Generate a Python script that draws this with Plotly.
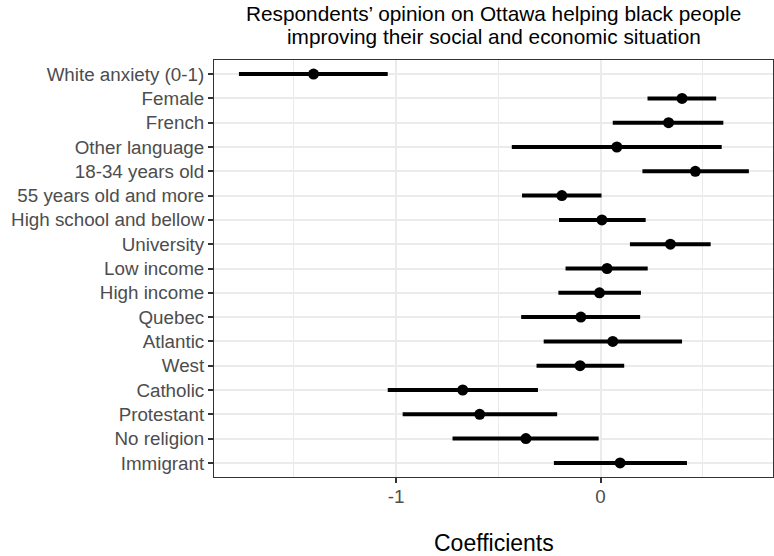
import plotly.graph_objects as go

# ---- data ----
variables = [
    "White anxiety (0-1)", "Female", "French", "Other language",
    "18-34 years old", "55 years old and more", "High school and bellow",
    "University", "Low income", "High income", "Quebec", "Atlantic",
    "West", "Catholic", "Protestant", "No religion", "Immigrant",
]
estimate = [-1.404, 0.399, 0.333, 0.080, 0.464, -0.189, 0.007, 0.342, 0.032,
            -0.005, -0.096, 0.060, -0.100, -0.674, -0.591, -0.365, 0.096]
conf_low = [-1.769, 0.230, 0.060, -0.434, 0.205, -0.384, -0.203, 0.144, -0.171,
            -0.206, -0.388, -0.278, -0.313, -1.041, -0.968, -0.724, -0.228]
conf_high = [-1.041, 0.566, 0.601, 0.593, 0.726, 0.005, 0.221, 0.539, 0.231,
             0.198, 0.194, 0.399, 0.116, -0.306, -0.212, -0.009, 0.423]
x_tickvals = [-1, 0]
x_ticktext = ["-1", "0"]
ref_line = 0

title_lines = ["Respondents\u2019 opinion on Ottawa helping black people",
               "improving their social and economic situation"]
x_title = "Coefficients"

FONT = "Liberation Sans, Arial, sans-serif"
GRID = "#EBEBEB"
TXT = "#4D4D4D"

err_plus = [h - e for h, e in zip(conf_high, estimate)]
err_minus = [e - l for e, l in zip(estimate, conf_low)]

fig = go.Figure()
fig.add_trace(go.Scatter(
    x=estimate, y=variables, mode="markers",
    marker=dict(color="black", size=11),
    error_x=dict(type="data", symmetric=False, array=err_plus,
                 arrayminus=err_minus, color="black", thickness=4, width=0),
    showlegend=False, hoverinfo="skip",
))

fig.add_vline(x=ref_line, line=dict(color="#808080", width=1, dash="dash"),
              layer="below")

# two-line title, with ggplot-like tight line spacing
for line, shift in zip(title_lines, [47, 23.5]):
    fig.add_annotation(text=line, xref="paper", yref="paper", x=0.5, y=1,
                       xanchor="center", yanchor="middle", yshift=shift,
                       showarrow=False,
                       font=dict(size=20.8, color="black", family=FONT))

# x-axis title placed below the tick labels
fig.add_annotation(text=x_title, xref="paper", yref="paper", x=0.5, y=0,
                   xanchor="center", yanchor="middle", yshift=-66,
                   showarrow=False,
                   font=dict(size=23, color="black", family=FONT))

fig.update_layout(
    width=774, height=556,
    margin=dict(l=214, r=1, t=60, b=79),
    paper_bgcolor="white", plot_bgcolor="white",
    font=dict(family=FONT, color=TXT),
    xaxis=dict(
        range=[-1.891, 0.844], tickvals=x_tickvals, ticktext=x_ticktext,
        showgrid=True, gridcolor=GRID, gridwidth=2.2,
        minor=dict(dtick=0.5, tick0=0, showgrid=True, gridcolor=GRID,
                   gridwidth=1.1, ticks=""),
        zeroline=False, automargin=False,
        ticks="outside", ticklen=5, tickwidth=1.5, tickcolor="#333333",
        ticklabelstandoff=-3,
        tickfont=dict(size=18.8, color=TXT),
        showline=True, linecolor="#333333", linewidth=1, mirror=True,
    ),
    yaxis=dict(
        type="category", categoryorder="array", categoryarray=variables,
        range=[len(variables) - 0.42, -0.58],
        showgrid=True, gridcolor=GRID, gridwidth=2.2,
        zeroline=False, automargin=False,
        ticks="outside", ticklen=5, tickwidth=1.5, tickcolor="#333333",
        tickfont=dict(size=18.8, color=TXT),
        showline=True, linecolor="#333333", linewidth=1, mirror=True,
    ),
)

fig.write_html("out.html", config={"displayModeBar": False},
               post_script="document.body.style.margin='0px';"
                           "document.body.style.overflow='hidden';")
